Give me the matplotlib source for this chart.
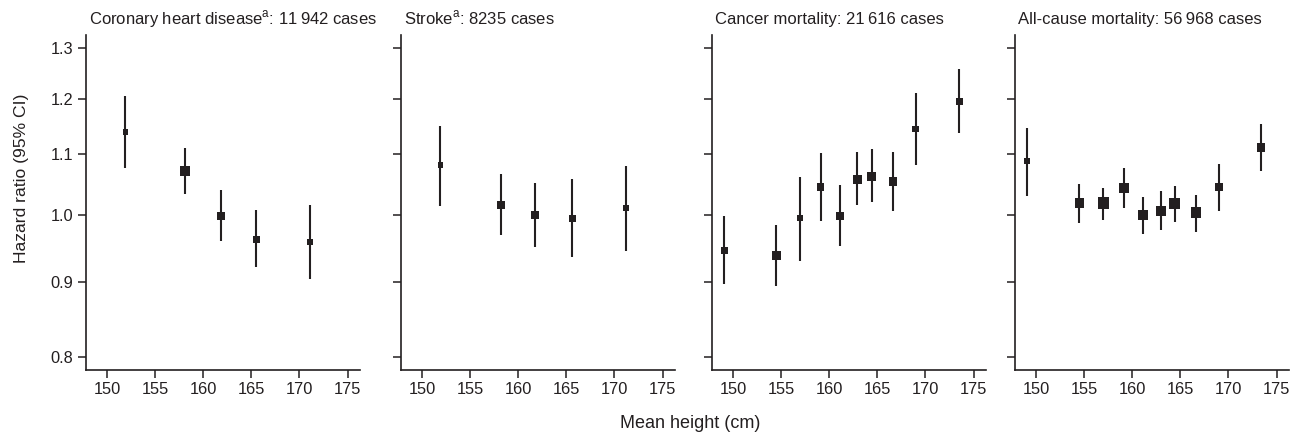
import matplotlib
matplotlib.use("Agg")
import matplotlib.pyplot as plt
from matplotlib.ticker import FixedLocator, NullLocator, FixedFormatter
import numpy as np

plt.rcParams['font.family'] = ['Liberation Sans', 'DejaVu Sans']
plt.rcParams['mathtext.fontset'] = 'custom'
plt.rcParams['mathtext.rm'] = 'Liberation Sans'

titles = ["Coronary heart disease$^{\\mathregular{a}}$: 11\u2009942 cases",
          "Stroke$^{\\mathregular{a}}$: 8235 cases",
          "Cancer mortality: 21\u2009616 cases",
          "All-cause mortality: 56\u2009968 cases"]

chd_height = [151.9, 158.1, 161.8, 165.5, 171.1]
chd_hr = [1.139, 1.072, 0.999, 0.963, 0.958]
chd_lo = [1.077, 1.033, 0.960, 0.922, 0.905]
chd_hi = [1.205, 1.112, 1.041, 1.008, 1.016]
chd_w = [5.5, 9.5, 8.0, 7.0, 6.0]

stroke_height = [151.9, 158.2, 161.75, 165.6, 171.2]
stroke_hr = [1.082, 1.016, 1.000, 0.995, 1.011]
stroke_lo = [1.015, 0.969, 0.951, 0.936, 0.945]
stroke_hi = [1.151, 1.066, 1.051, 1.058, 1.080]
stroke_w = [5.3, 8.0, 7.3, 7.0, 6.0]

cancer_height = [149.1, 154.5, 157.0, 159.1, 161.1, 162.9, 164.4, 166.6, 169.0, 173.5]
cancer_hr = [0.946, 0.938, 0.995, 1.045, 0.999, 1.058, 1.063, 1.054, 1.145, 1.196]
cancer_lo = [0.897, 0.894, 0.931, 0.991, 0.953, 1.016, 1.020, 1.006, 1.082, 1.138]
cancer_hi = [0.998, 0.984, 1.062, 1.102, 1.049, 1.104, 1.109, 1.104, 1.211, 1.258]
cancer_w = [7.3, 8.7, 6.0, 7.3, 8.0, 9.0, 9.0, 8.3, 6.7, 7.0]

allcause_height = [149.1, 154.5, 157.0, 159.1, 161.1, 162.95, 164.4, 166.6, 169.0, 173.4]
allcause_hr = [1.089, 1.019, 1.019, 1.043, 1.000, 1.007, 1.018, 1.004, 1.045, 1.112]
allcause_lo = [1.031, 0.987, 0.992, 1.011, 0.971, 0.977, 0.989, 0.974, 1.007, 1.072]
allcause_hi = [1.147, 1.050, 1.043, 1.076, 1.029, 1.039, 1.046, 1.032, 1.083, 1.153]
allcause_w = [6.0, 9.7, 11.7, 10.0, 9.7, 10.0, 11.0, 10.3, 7.7, 8.3]

x_ticks = [150, 155, 160, 165, 170, 175]
y_ticks = [0.8, 0.9, 1.0, 1.1, 1.2, 1.3]
y_tick_labels = ["0.8", "0.9", "1.0", "1.1", "1.2", "1.3"]

panels = [
    (chd_height, chd_hr, chd_lo, chd_hi, chd_w),
    (stroke_height, stroke_hr, stroke_lo, stroke_hi, stroke_w),
    (cancer_height, cancer_hr, cancer_lo, cancer_hi, cancer_w),
    (allcause_height, allcause_hr, allcause_lo, allcause_hi, allcause_w),
]

W, H = 1300, 434
fig = plt.figure(figsize=(W / 100, H / 100), dpi=100)
lefts = [86, 401, 712, 1015]
ax_w = 274
ax_bottom = 64
ax_h = 335
ink = '#231f20'

for i, (hx, hr, lo, hi, w) in enumerate(panels):
    ax = fig.add_axes([lefts[i] / W, ax_bottom / H, ax_w / W, ax_h / H])
    hr_a = np.array(hr); lo_a = np.array(lo); hi_a = np.array(hi)
    ax.errorbar(hx, hr_a, yerr=[hr_a - lo_a, hi_a - hr_a], fmt='none',
                ecolor=ink, elinewidth=1.5, capsize=0, zorder=2)
    sizes = (np.array(w) * 0.72) ** 2
    ax.scatter(hx, hr_a, s=sizes, marker='s', color=ink, linewidths=0, zorder=3)
    ax.set_yscale('log')
    ax.set_xlim(147.8, 176.3)
    ax.set_ylim(0.784, 1.327)
    ax.yaxis.set_major_locator(FixedLocator(y_ticks))
    ax.yaxis.set_minor_locator(NullLocator())
    if i == 0:
        ax.yaxis.set_major_formatter(FixedFormatter(y_tick_labels))
    else:
        ax.yaxis.set_major_formatter(FixedFormatter([""] * len(y_ticks)))
    ax.set_xticks(x_ticks)
    ax.set_xticklabels([str(t) for t in x_ticks])
    for s in ['top', 'right']:
        ax.spines[s].set_visible(False)
    for s in ['left', 'bottom']:
        ax.spines[s].set_linewidth(1.2)
        ax.spines[s].set_color(ink)
    ax.tick_params(axis='both', direction='out', length=6, width=1.1, color=ink,
                   labelsize=11.8, labelcolor=ink, pad=3)
    ax.set_title(titles[i], loc='left', fontsize=12, color=ink, pad=8, x=0.01)

fig.text(22 / W, 1 - 178 / H, "Hazard ratio (95% CI)", rotation=90,
         ha='center', va='center', fontsize=12.6, color=ink)
fig.text(690 / W, 1 - 423 / H, "Mean height (cm)", ha='center', va='center',
         fontsize=13, color=ink)

fig.savefig("out.png", dpi=100)
